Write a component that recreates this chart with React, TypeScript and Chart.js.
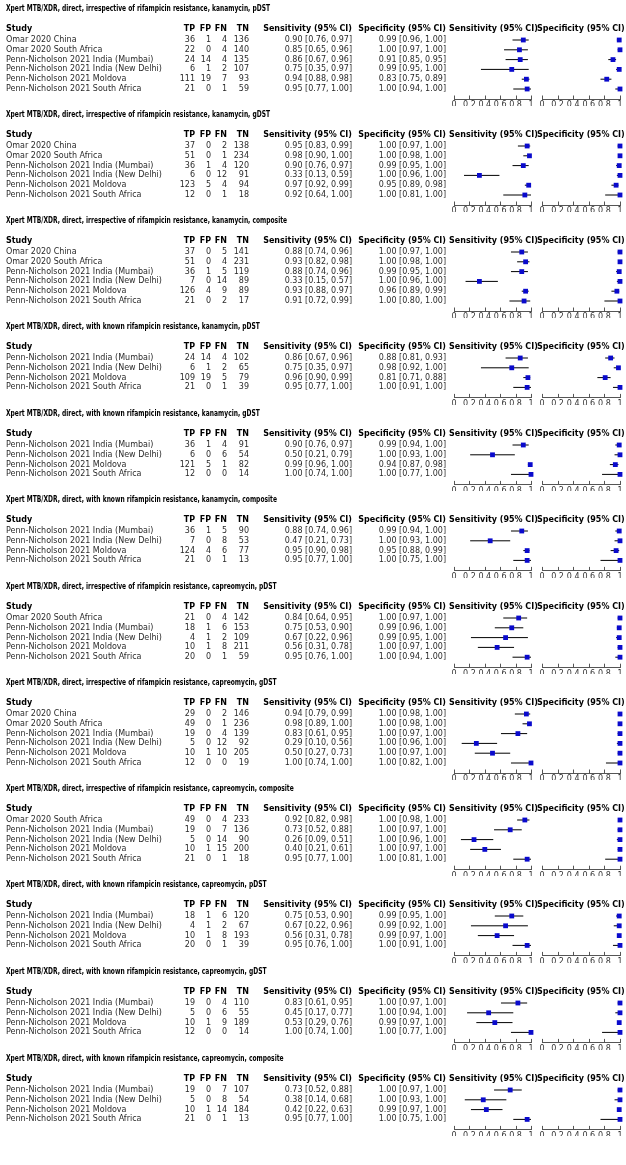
import React, { useEffect, useRef } from "react";
import { Chart, registerables } from "chart.js";

Chart.register(...registerables);
Chart.defaults.font.family = '"DejaVu Sans"';

// ---------------- data ----------------
const panelTitles = [
  "Xpert MTB/XDR, direct, irrespective of rifampicin resistance, kanamycin, pDST",
  "Xpert MTB/XDR, direct, irrespective of rifampicin resistance, kanamycin, gDST",
  "Xpert MTB/XDR, direct, irrespective of rifampicin resistance, kanamycin, composite",
  "Xpert MTB/XDR, direct, with known rifampicin resistance, kanamycin, pDST",
  "Xpert MTB/XDR, direct, with known rifampicin resistance, kanamycin, gDST",
  "Xpert MTB/XDR, direct, with known rifampicin resistance, kanamycin, composite",
  "Xpert MTB/XDR, direct, irrespective of rifampicin resistance, capreomycin, pDST",
  "Xpert MTB/XDR, direct, irrespective of rifampicin resistance, capreomycin, gDST",
  "Xpert MTB/XDR, direct, irrespective of rifampicin resistance, capreomycin, composite",
  "Xpert MTB/XDR, direct, with known rifampicin resistance, capreomycin, pDST",
  "Xpert MTB/XDR, direct, with known rifampicin resistance, capreomycin, gDST",
  "Xpert MTB/XDR, direct, with known rifampicin resistance, capreomycin, composite",
];

const columnHeaders = ["Study", "TP", "FP", "FN", "TN", "Sensitivity (95% CI)", "Specificity (95% CI)", "Sensitivity (95% CI)", "Specificity (95% CI)"];
const tickValues = [0, 0.2, 0.4, 0.6, 0.8, 1];
const tickLabels = ["0", "0.2", "0.4", "0.6", "0.8", "1"];

// study, TP, FP, FN, TN, sens, sensLo, sensHi, spec, specLo, specHi
const irrKanPdst = [
  ["Omar 2020 China", 36, 1, 4, 136, 0.90, 0.76, 0.97, 0.99, 0.96, 1.00],
  ["Omar 2020 South Africa", 22, 0, 4, 140, 0.85, 0.65, 0.96, 1.00, 0.97, 1.00],
  ["Penn-Nicholson 2021 India (Mumbai)", 24, 14, 4, 135, 0.86, 0.67, 0.96, 0.91, 0.85, 0.95],
  ["Penn-Nicholson 2021 India (New Delhi)", 6, 1, 2, 107, 0.75, 0.35, 0.97, 0.99, 0.95, 1.00],
  ["Penn-Nicholson 2021 Moldova", 111, 19, 7, 93, 0.94, 0.88, 0.98, 0.83, 0.75, 0.89],
  ["Penn-Nicholson 2021 South Africa", 21, 0, 1, 59, 0.95, 0.77, 1.00, 1.00, 0.94, 1.00],
];
const irrKanGdst = [
  ["Omar 2020 China", 37, 0, 2, 138, 0.95, 0.83, 0.99, 1.00, 0.97, 1.00],
  ["Omar 2020 South Africa", 51, 0, 1, 234, 0.98, 0.90, 1.00, 1.00, 0.98, 1.00],
  ["Penn-Nicholson 2021 India (Mumbai)", 36, 1, 4, 120, 0.90, 0.76, 0.97, 0.99, 0.95, 1.00],
  ["Penn-Nicholson 2021 India (New Delhi)", 6, 0, 12, 91, 0.33, 0.13, 0.59, 1.00, 0.96, 1.00],
  ["Penn-Nicholson 2021 Moldova", 123, 5, 4, 94, 0.97, 0.92, 0.99, 0.95, 0.89, 0.98],
  ["Penn-Nicholson 2021 South Africa", 12, 0, 1, 18, 0.92, 0.64, 1.00, 1.00, 0.81, 1.00],
];
const irrKanComp = [
  ["Omar 2020 China", 37, 0, 5, 141, 0.88, 0.74, 0.96, 1.00, 0.97, 1.00],
  ["Omar 2020 South Africa", 51, 0, 4, 231, 0.93, 0.82, 0.98, 1.00, 0.98, 1.00],
  ["Penn-Nicholson 2021 India (Mumbai)", 36, 1, 5, 119, 0.88, 0.74, 0.96, 0.99, 0.95, 1.00],
  ["Penn-Nicholson 2021 India (New Delhi)", 7, 0, 14, 89, 0.33, 0.15, 0.57, 1.00, 0.96, 1.00],
  ["Penn-Nicholson 2021 Moldova", 126, 4, 9, 89, 0.93, 0.88, 0.97, 0.96, 0.89, 0.99],
  ["Penn-Nicholson 2021 South Africa", 21, 0, 2, 17, 0.91, 0.72, 0.99, 1.00, 0.80, 1.00],
];
const knownKanPdst = [
  ["Penn-Nicholson 2021 India (Mumbai)", 24, 14, 4, 102, 0.86, 0.67, 0.96, 0.88, 0.81, 0.93],
  ["Penn-Nicholson 2021 India (New Delhi)", 6, 1, 2, 65, 0.75, 0.35, 0.97, 0.98, 0.92, 1.00],
  ["Penn-Nicholson 2021 Moldova", 109, 19, 5, 79, 0.96, 0.90, 0.99, 0.81, 0.71, 0.88],
  ["Penn-Nicholson 2021 South Africa", 21, 0, 1, 39, 0.95, 0.77, 1.00, 1.00, 0.91, 1.00],
];
const knownKanGdst = [
  ["Penn-Nicholson 2021 India (Mumbai)", 36, 1, 4, 91, 0.90, 0.76, 0.97, 0.99, 0.94, 1.00],
  ["Penn-Nicholson 2021 India (New Delhi)", 6, 0, 6, 54, 0.50, 0.21, 0.79, 1.00, 0.93, 1.00],
  ["Penn-Nicholson 2021 Moldova", 121, 5, 1, 82, 0.99, 0.96, 1.00, 0.94, 0.87, 0.98],
  ["Penn-Nicholson 2021 South Africa", 12, 0, 0, 14, 1.00, 0.74, 1.00, 1.00, 0.77, 1.00],
];
const knownKanComp = [
  ["Penn-Nicholson 2021 India (Mumbai)", 36, 1, 5, 90, 0.88, 0.74, 0.96, 0.99, 0.94, 1.00],
  ["Penn-Nicholson 2021 India (New Delhi)", 7, 0, 8, 53, 0.47, 0.21, 0.73, 1.00, 0.93, 1.00],
  ["Penn-Nicholson 2021 Moldova", 124, 4, 6, 77, 0.95, 0.90, 0.98, 0.95, 0.88, 0.99],
  ["Penn-Nicholson 2021 South Africa", 21, 0, 1, 13, 0.95, 0.77, 1.00, 1.00, 0.75, 1.00],
];
const irrCapPdst = [
  ["Omar 2020 South Africa", 21, 0, 4, 142, 0.84, 0.64, 0.95, 1.00, 0.97, 1.00],
  ["Penn-Nicholson 2021 India (Mumbai)", 18, 1, 6, 153, 0.75, 0.53, 0.90, 0.99, 0.96, 1.00],
  ["Penn-Nicholson 2021 India (New Delhi)", 4, 1, 2, 109, 0.67, 0.22, 0.96, 0.99, 0.95, 1.00],
  ["Penn-Nicholson 2021 Moldova", 10, 1, 8, 211, 0.56, 0.31, 0.78, 1.00, 0.97, 1.00],
  ["Penn-Nicholson 2021 South Africa", 20, 0, 1, 59, 0.95, 0.76, 1.00, 1.00, 0.94, 1.00],
];
const irrCapGdst = [
  ["Omar 2020 China", 29, 0, 2, 146, 0.94, 0.79, 0.99, 1.00, 0.98, 1.00],
  ["Omar 2020 South Africa", 49, 0, 1, 236, 0.98, 0.89, 1.00, 1.00, 0.98, 1.00],
  ["Penn-Nicholson 2021 India (Mumbai)", 19, 0, 4, 139, 0.83, 0.61, 0.95, 1.00, 0.97, 1.00],
  ["Penn-Nicholson 2021 India (New Delhi)", 5, 0, 12, 92, 0.29, 0.10, 0.56, 1.00, 0.96, 1.00],
  ["Penn-Nicholson 2021 Moldova", 10, 1, 10, 205, 0.50, 0.27, 0.73, 1.00, 0.97, 1.00],
  ["Penn-Nicholson 2021 South Africa", 12, 0, 0, 19, 1.00, 0.74, 1.00, 1.00, 0.82, 1.00],
];
const irrCapComp = [
  ["Omar 2020 South Africa", 49, 0, 4, 233, 0.92, 0.82, 0.98, 1.00, 0.98, 1.00],
  ["Penn-Nicholson 2021 India (Mumbai)", 19, 0, 7, 136, 0.73, 0.52, 0.88, 1.00, 0.97, 1.00],
  ["Penn-Nicholson 2021 India (New Delhi)", 5, 0, 14, 90, 0.26, 0.09, 0.51, 1.00, 0.96, 1.00],
  ["Penn-Nicholson 2021 Moldova", 10, 1, 15, 200, 0.40, 0.21, 0.61, 1.00, 0.97, 1.00],
  ["Penn-Nicholson 2021 South Africa", 21, 0, 1, 18, 0.95, 0.77, 1.00, 1.00, 0.81, 1.00],
];
const knownCapPdst = [
  ["Penn-Nicholson 2021 India (Mumbai)", 18, 1, 6, 120, 0.75, 0.53, 0.90, 0.99, 0.95, 1.00],
  ["Penn-Nicholson 2021 India (New Delhi)", 4, 1, 2, 67, 0.67, 0.22, 0.96, 0.99, 0.92, 1.00],
  ["Penn-Nicholson 2021 Moldova", 10, 1, 8, 193, 0.56, 0.31, 0.78, 0.99, 0.97, 1.00],
  ["Penn-Nicholson 2021 South Africa", 20, 0, 1, 39, 0.95, 0.76, 1.00, 1.00, 0.91, 1.00],
];
const knownCapGdst = [
  ["Penn-Nicholson 2021 India (Mumbai)", 19, 0, 4, 110, 0.83, 0.61, 0.95, 1.00, 0.97, 1.00],
  ["Penn-Nicholson 2021 India (New Delhi)", 5, 0, 6, 55, 0.45, 0.17, 0.77, 1.00, 0.94, 1.00],
  ["Penn-Nicholson 2021 Moldova", 10, 1, 9, 189, 0.53, 0.29, 0.76, 0.99, 0.97, 1.00],
  ["Penn-Nicholson 2021 South Africa", 12, 0, 0, 14, 1.00, 0.74, 1.00, 1.00, 0.77, 1.00],
];
const knownCapComp = [
  ["Penn-Nicholson 2021 India (Mumbai)", 19, 0, 7, 107, 0.73, 0.52, 0.88, 1.00, 0.97, 1.00],
  ["Penn-Nicholson 2021 India (New Delhi)", 5, 0, 8, 54, 0.38, 0.14, 0.68, 1.00, 0.93, 1.00],
  ["Penn-Nicholson 2021 Moldova", 10, 1, 14, 184, 0.42, 0.22, 0.63, 0.99, 0.97, 1.00],
  ["Penn-Nicholson 2021 South Africa", 21, 0, 1, 13, 0.95, 0.77, 1.00, 1.00, 0.75, 1.00],
];

const panelRows = [
  irrKanPdst, irrKanGdst, irrKanComp,
  knownKanPdst, knownKanGdst, knownKanComp,
  irrCapPdst, irrCapGdst, irrCapComp,
  knownCapPdst, knownCapGdst, knownCapComp,
];

// ---------------- layout ----------------
const W = 626;
const ROW = 9.8;
const PANEL_BASE = 47.3;
const TITLE_Y = 9;
const HEADER_Y = 29;
const FIRST_ROW_Y = 40;
const AXIS_GAP = 10.5;
const AXIS_H = 15;
const TITLE_REF_WIDTH = 264;
const TEXT_COLS = { tp: 195, fp: 211, fn: 227, tn: 249, sens: 352, spec: 446 };
const PLOT_HEAD_X = [449, 537];
const PLOT_X = { sens: [454, 531], spec: [542, 620] };
const SQUARE_COLOR = "#0a0acc";
const TEXT_COLOR = "#2a2a2a";
const TITLE_FONT = 'bold 8px "DejaVu Sans"';

const fmt = (v: number) => v.toFixed(2);

function titleScale(ctx: CanvasRenderingContext2D) {
  ctx.save();
  ctx.font = TITLE_FONT;
  const w = ctx.measureText(panelTitles[0]).width;
  ctx.restore();
  return w > 0 ? TITLE_REF_WIDTH / w : 1;
}

function makeChart(canvas: HTMLCanvasElement, rows: any[], kind: "sens" | "spec", title: string) {
  const n = rows.length;
  const H = canvas.height;
  const axisY = FIRST_ROW_Y + (n - 1) * ROW + AXIS_GAP;
  const [x0, x1] = PLOT_X[kind];
  const vi = kind === "sens" ? 5 : 8;

  const points = rows.map((r, i) => ({ x: r[vi], y: i }));
  const ci: any[] = [];
  rows.forEach((r, i) => {
    ci.push({ x: r[vi + 1], y: i }, { x: r[vi + 2], y: i }, { x: null, y: null });
  });

  const overlay = {
    id: "forestOverlay",
    afterDraw(chart: any) {
      const ctx = chart.ctx;
      const xs = chart.scales.x;
      const ys = chart.scales.y;
      const yb = chart.chartArea.bottom;
      ctx.save();
      ctx.strokeStyle = "#555";
      ctx.lineWidth = 1;
      tickValues.forEach((v) => {
        const px = Math.round(xs.getPixelForValue(v)) + 0.5;
        ctx.beginPath();
        ctx.moveTo(px, yb);
        ctx.lineTo(px, yb - 4);
        ctx.stroke();
      });
      if (kind === "sens") {
        ctx.textBaseline = "middle";
        ctx.fillStyle = "#000";
        const sx = titleScale(ctx);
        ctx.save();
        ctx.font = TITLE_FONT;
        ctx.textAlign = "left";
        ctx.translate(6, TITLE_Y);
        ctx.scale(sx, 1);
        ctx.fillText(title, 0, 0);
        ctx.restore();

        ctx.font = TITLE_FONT;
        ctx.textAlign = "left";
        ctx.fillText(columnHeaders[0], 6, HEADER_Y);
        ctx.textAlign = "right";
        ctx.fillText(columnHeaders[1], TEXT_COLS.tp, HEADER_Y);
        ctx.fillText(columnHeaders[2], TEXT_COLS.fp, HEADER_Y);
        ctx.fillText(columnHeaders[3], TEXT_COLS.fn, HEADER_Y);
        ctx.fillText(columnHeaders[4], TEXT_COLS.tn, HEADER_Y);
        ctx.fillText(columnHeaders[5], TEXT_COLS.sens, HEADER_Y);
        ctx.fillText(columnHeaders[6], TEXT_COLS.spec, HEADER_Y);
        ctx.textAlign = "left";
        ctx.fillText(columnHeaders[7], PLOT_HEAD_X[0], HEADER_Y);
        ctx.fillText(columnHeaders[8], PLOT_HEAD_X[1], HEADER_Y);

        ctx.font = '8px "DejaVu Sans"';
        ctx.fillStyle = TEXT_COLOR;
        rows.forEach((r, i) => {
          const y = ys.getPixelForValue(i);
          ctx.textAlign = "left";
          ctx.fillText(r[0], 6, y);
          ctx.textAlign = "right";
          ctx.fillText(String(r[1]), TEXT_COLS.tp, y);
          ctx.fillText(String(r[2]), TEXT_COLS.fp, y);
          ctx.fillText(String(r[3]), TEXT_COLS.fn, y);
          ctx.fillText(String(r[4]), TEXT_COLS.tn, y);
          ctx.fillText(`${fmt(r[5])} [${fmt(r[6])}, ${fmt(r[7])}]`, TEXT_COLS.sens, y);
          ctx.fillText(`${fmt(r[8])} [${fmt(r[9])}, ${fmt(r[10])}]`, TEXT_COLS.spec, y);
        });
      }
      ctx.restore();
    },
  };

  return new Chart(canvas, {
    type: "scatter",
    data: {
      datasets: [
        {
          data: points,
          pointStyle: "rect",
          pointRadius: 3.4,
          pointHoverRadius: 3.4,
          backgroundColor: SQUARE_COLOR,
          borderWidth: 0,
          clip: false,
          order: 0,
        },
        {
          type: "line",
          data: ci,
          borderColor: "#000",
          borderWidth: 1,
          pointRadius: 0,
          showLine: true,
          spanGaps: false,
          clip: false,
          order: 1,
        } as any,
      ],
    },
    options: {
      responsive: false,
      animation: false,
      devicePixelRatio: 1,
      events: [],
      layout: {
        padding: {
          left: x0,
          right: W - x1,
          top: FIRST_ROW_Y - 0.5 * ROW,
          bottom: H - axisY - AXIS_H,
        },
      },
      plugins: { legend: { display: false }, tooltip: { enabled: false } },
      scales: {
        x: {
          type: "linear",
          min: 0,
          max: 1,
          position: "bottom",
          afterBuildTicks: (s: any) => {
            s.ticks = tickValues.map((v) => ({ value: v }));
          },
          afterFit: (s: any) => {
            s.height = AXIS_H;
          },
          ticks: {
            callback: (_v: any, i: number) => tickLabels[i],
            font: { size: 8, family: '"DejaVu Sans"' },
            color: "#333",
            padding: 1,
            maxRotation: 0,
            autoSkip: false,
          },
          grid: { display: false, drawTicks: false },
          border: { display: true, color: "#555", width: 1 },
        },
        y: {
          type: "linear",
          display: false,
          reverse: true,
          min: -0.5,
          max: n - 1 + AXIS_GAP / ROW,
        },
      },
    } as any,
    plugins: [overlay],
  });
}

function ForestPanel({ rows, title, top, height }: any) {
  const sensRef = useRef<HTMLCanvasElement>(null);
  const specRef = useRef<HTMLCanvasElement>(null);
  useEffect(() => {
    const a = makeChart(sensRef.current!, rows, "sens", title);
    const b = makeChart(specRef.current!, rows, "spec", title);
    return () => {
      a.destroy();
      b.destroy();
    };
  }, [rows, title]);
  const cs: React.CSSProperties = { position: "absolute", left: 0, top: 0, width: W, height };
  return (
    <div style={{ position: "absolute", left: 0, top, width: W, height }}>
      <canvas ref={sensRef} width={W} height={height} style={cs} />
      <canvas ref={specRef} width={W} height={height} style={cs} />
    </div>
  );
}

export default function App() {
  let acc = 0;
  const panels = panelRows.map((rows, k) => {
    const pitch = PANEL_BASE + rows.length * ROW;
    const top = Math.round(acc);
    const height = Math.round(acc + pitch) - top;
    acc += pitch;
    return <ForestPanel key={k} rows={rows} title={panelTitles[k]} top={top} height={height} />;
  });
  return (
    <div style={{ position: "absolute", left: 0, top: 0, width: W, height: 1165, background: "#fff" }}>
      {panels}
    </div>
  );
}
